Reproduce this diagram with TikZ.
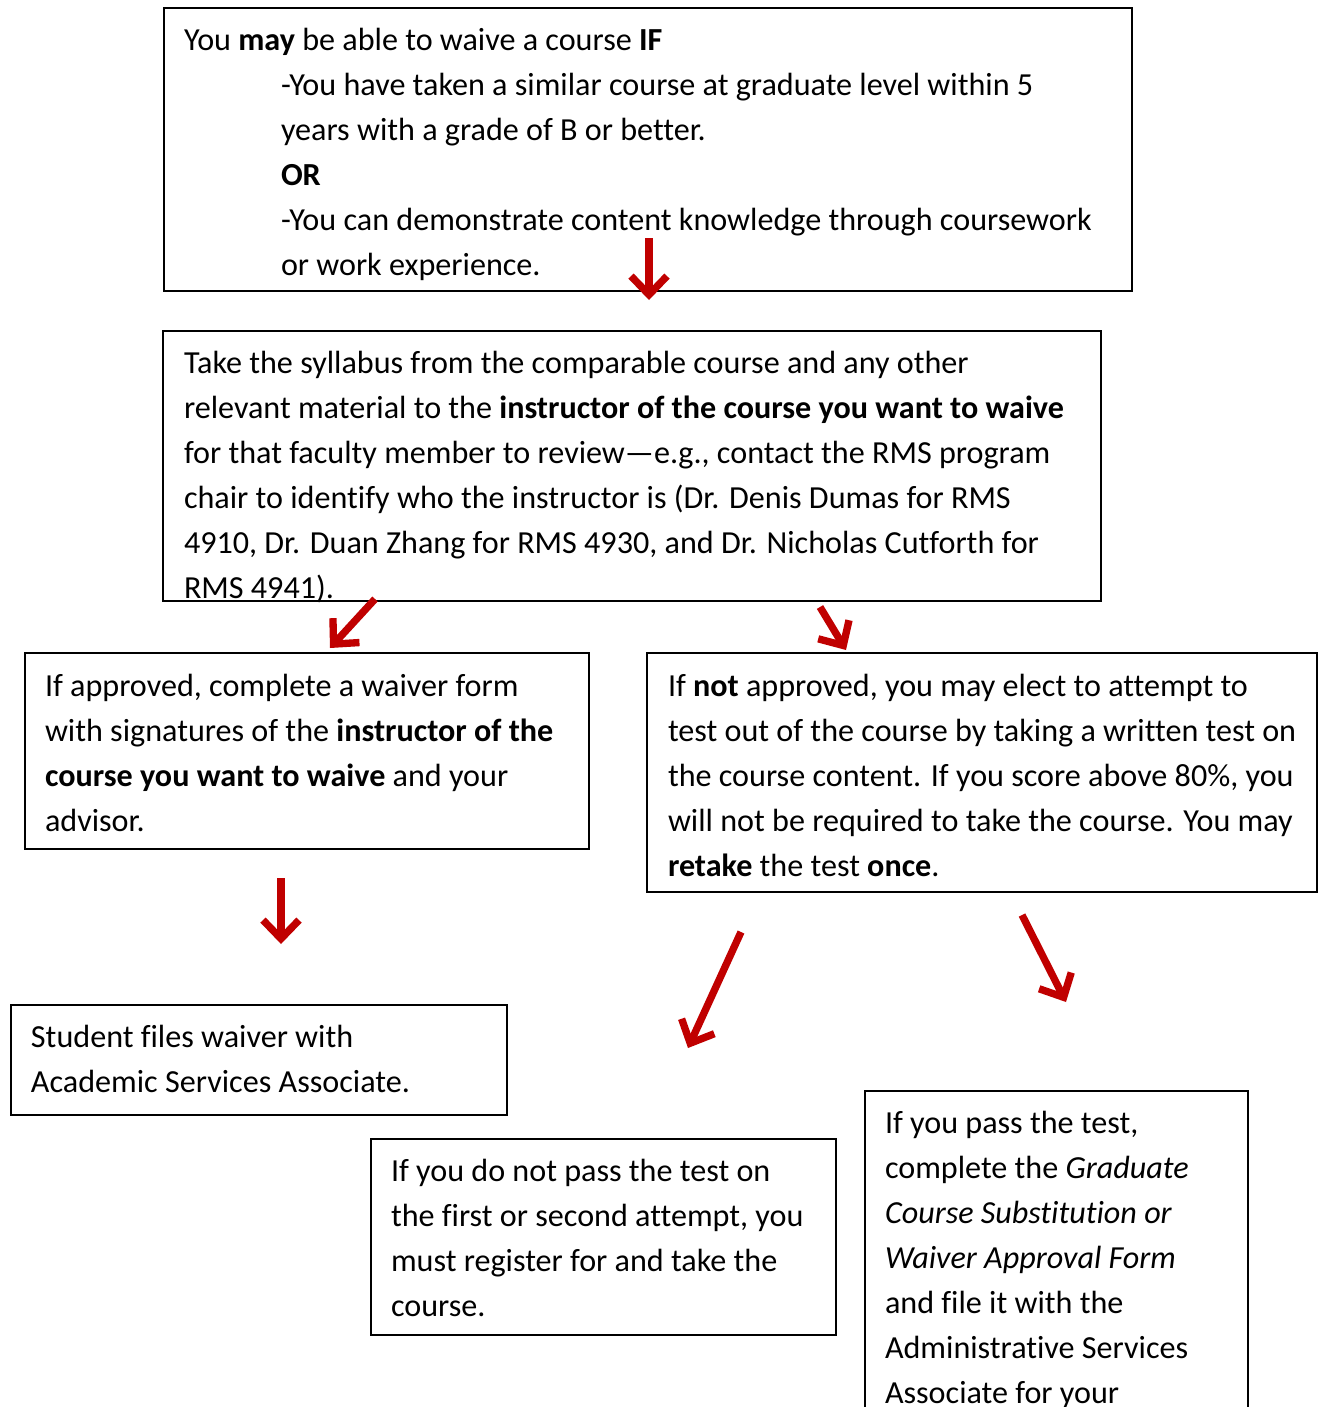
\documentclass[tikz,border=0pt]{standalone}
\usepackage{fontspec}
\setmainfont{Carlito}[Ligatures={NoCommon}]
\usetikzlibrary{arrows.meta}
\definecolor{arrowred}{HTML}{C00000}
\begin{document}
\begin{tikzpicture}[x=0.75pt,y=-0.75pt,
  box/.style={draw=black,line width=1.5pt,rectangle,inner sep=0pt,outer sep=0pt,anchor=north west},
  txt/.style={anchor=base west,inner sep=0pt,outer sep=0pt,align=left,font=\fontsize{24.1pt}{33.75pt}\selectfont},
  redarrow/.style={draw=arrowred,line width=5.5pt,-{Straight Barb[length=14pt,width=27pt]}}]
\useasboundingbox (0,0) rectangle (1320,1407);
\clip (0,0) rectangle (1320,1407);
% boxes
\node[box,minimum width=726pt,minimum height=212.25pt] (b1) at (164,8) {};
\node[box,minimum width=703.5pt,minimum height=202.5pt] (b2) at (163,331) {};
\node[box,minimum width=423pt,minimum height=147pt] (b3) at (25,653) {};
\node[box,minimum width=502.5pt,minimum height=179.25pt] (b4) at (647,653) {};
\node[box,minimum width=372pt,minimum height=82.5pt] (b5) at (11,1005) {};
\node[box,minimum width=348.75pt,minimum height=147pt] (b6) at (371,1139) {};
\node[box,minimum width=287.25pt,minimum height=269.25pt] (b7) at (865,1091) {};
% texts (anchored at the baseline of the last line)
\node[txt] (t1) at (184,275) {You \textbf{may} be able to waive a course \textbf{IF}\\
\hspace*{72.75pt}-You have taken a similar course at graduate level within 5\\
\hspace*{72.75pt}years with a grade of B or better.\\
\hspace*{72.75pt}\textbf{OR}\\
\hspace*{72.75pt}-You can demonstrate content knowledge through coursework\\
\hspace*{72.75pt}or work experience.};
\node[txt] (t2) at (184,598) {Take the syllabus from the comparable course and any other\\
relevant material to the \textbf{instructor of the course you want to waive}\\
for that faculty member to review—e.g., contact the RMS program\\
chair to identify who the instructor is (Dr. Denis Dumas for RMS\\
4910, Dr. Duan Zhang for RMS 4930, and Dr. Nicholas Cutforth for\\
RMS 4941).};
\node[txt] (t3) at (45,831) {If approved, complete a waiver form\\
with signatures of the \textbf{instructor of the}\\
\textbf{course you want to waive} and your\\
advisor.};
\node[txt] (t4) at (668,876) {If \textbf{not} approved, you may elect to attempt to\\
test out of the course by taking a written test on\\
the course content. If you score above 80\%, you\\
will not be required to take the course. You may\\
\textbf{retake} the test \textbf{once}.};
\node[txt] (t5) at (31,1092) {Student files waiver with\\
Academic Services Associate.};
\node[txt] (t6) at (391,1316) {If you do not pass the test on\\
the first or second attempt, you\\
must register for and take the\\
course.};
\node[txt] (t7) at (885,1403) {If you pass the test,\\
complete the \textit{Graduate}\\
\textit{Course Substitution or}\\
\textit{Waiver Approval Form}\\
and file it with the\\
Administrative Services\\
Associate for your};
% arrow endpoints
\coordinate (a1s) at (649,238); \coordinate (a1e) at (649,300);
\coordinate (a2s) at (375,599); \coordinate (a2e) at (330,648);
\coordinate (a3s) at (820,607); \coordinate (a3e) at (846,650);
\coordinate (a4s) at (281,878); \coordinate (a4e) at (281,944);
\coordinate (a5s) at (741,932); \coordinate (a5e) at (688,1048);
\coordinate (a6s) at (1022,915); \coordinate (a6e) at (1066,1002);
\draw[redarrow] (a1s) -- (a1e);
\draw[redarrow] (a2s) -- (a2e);
\draw[redarrow] (a3s) -- (a3e);
\draw[redarrow] (a4s) -- (a4e);
\draw[redarrow] (a5s) -- (a5e);
\draw[redarrow] (a6s) -- (a6e);
\end{tikzpicture}
\end{document}
